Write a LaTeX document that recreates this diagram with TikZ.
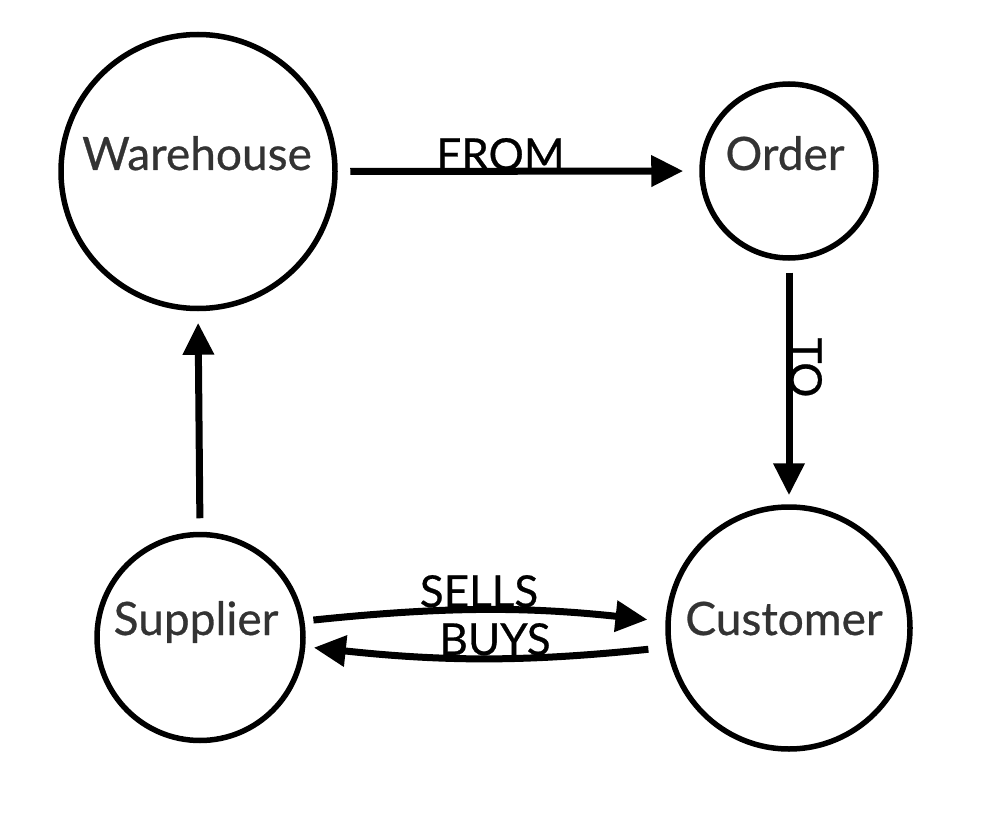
\documentclass[tikz,border=0pt]{standalone}
\usepackage{fontspec}
\setmainfont{Lato}[FakeBold=0.6]
\usetikzlibrary{arrows.meta}
\definecolor{labgray}{HTML}{333333}
\tikzset{
  bubble/.style={circle, draw=black, line width=5.5pt, inner sep=0pt},
  nlab/.style={anchor=base, inner sep=0pt, text=labgray, font=\fontsize{46}{46}\selectfont},
  elab/.style={anchor=base, inner sep=0pt, text=black, font=\fontsize{44}{44}\selectfont},
  arr/.style={line width=7pt, -{Triangle[length=32pt,width=30pt]}},
}
\begin{document}
\begin{tikzpicture}[x=1pt,y=-1pt]
\useasboundingbox (0,0) rectangle (999,821);
% circles
\node[bubble, minimum size=274pt] (W) at (198,171.5) {};
\node[bubble, minimum size=174pt] (O) at (789,171) {};
\node[bubble, minimum size=206pt] (S) at (200,637.5) {};
\node[bubble, minimum size=242pt] (C) at (789,628) {};
% node labels
\node[nlab] (Wt) at (197,170) {Warehouse};
\node[nlab] (Ot) at (785,170) {Order};
\node[nlab] (St) at (196,635) {Supplier};
\node[nlab] (Ct) at (784,635) {Customer};
% connectors
\draw[arr, shorten <=12.5pt, shorten >=16pt] (W.east) -- (O.west);
\draw[arr, shorten <=12pt, shorten >=9pt] (O.south) -- (C.north);
\draw[arr, shorten <=13.5pt, shorten >=11.5pt] (S.north) -- (W.south);
\draw[arr, shorten <=9pt, shorten >=18pt] (S.9) to[bend left=6] (C.177);
\draw[arr, shorten <=18.5pt, shorten >=8.5pt] (C.189) to[bend left=6] (S.-5);
% edge labels
\node[elab] (lfrom) at (500.5,170) {FROM};
\node[elab, rotate=-90] (lto) at (790,367.5) {TO};
\node[elab] (lsells) at (479,607) {SELLS};
\node[elab] (lbuys) at (495,655) {BUYS};
\end{tikzpicture}
\end{document}
